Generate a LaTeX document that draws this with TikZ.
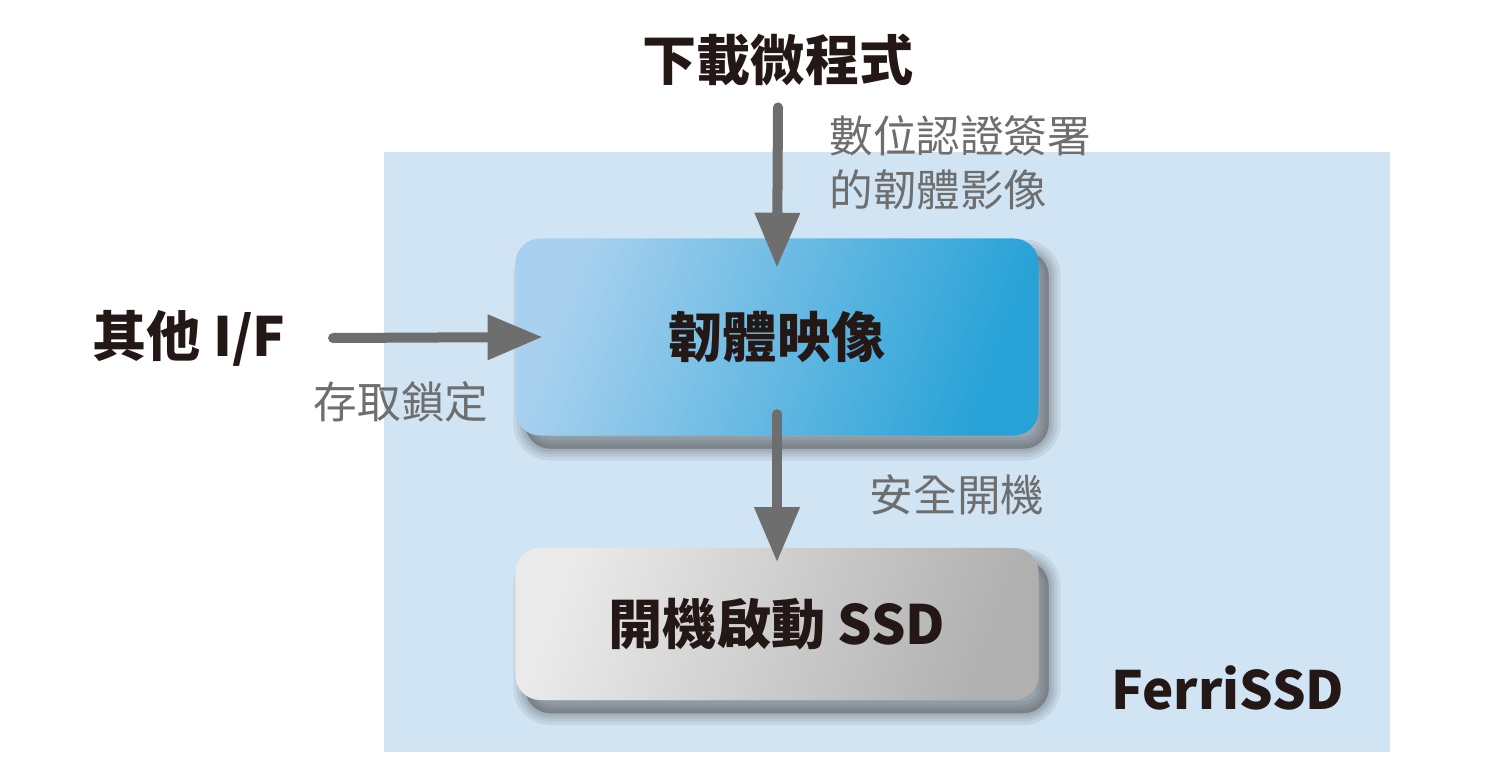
\documentclass[tikz,border=0pt]{standalone}
\usepackage{fontspec}
\usepackage{tikz}
\usepackage{xcolor}
\usetikzlibrary{positioning, calc, arrows.meta}
\setmainfont{Noto Sans CJK TC}

\definecolor{panelblue}{HTML}{D1E4F3}
\definecolor{boxblueL}{HTML}{A9D1EF}
\definecolor{boxblueR}{HTML}{27A2D7}
\definecolor{boxgrayL}{HTML}{EAEAEA}
\definecolor{boxgrayR}{HTML}{B0B0B0}
\definecolor{arrowgray}{HTML}{6E6E6E}
\definecolor{inkblack}{HTML}{231815}

\tikzset{
	blurlayer/.style={preaction={fill=black!75, draw=black!75, line width=#1, opacity=0.09, transform canvas={xshift=0.1cm, yshift=-0.13cm}}},
	shadowed/.style={blurlayer=0.24cm, blurlayer=0.17cm, blurlayer=0.11cm, blurlayer=0.06cm, blurlayer=0.01cm},
	stagebox/.style={shadowed, rounded corners=0.25cm, minimum width=5.23cm, text=inkblack,
		font=\fontsize{15.4}{18}\selectfont\bfseries},
	bigarrow/.style={arrowgray, line width=0.1cm, line cap=round, -{Triangle[width=0.43cm, length=0.55cm]}},
	title/.style={text=inkblack, font=\fontsize{15.4}{18}\selectfont\bfseries},
	note/.style={text=arrowgray, font=\fontsize{12.4}{15.2}\selectfont, align=left}
}

\begin{document}
\begin{tikzpicture}[x=0.01cm, y=-0.01cm]
	\useasboundingbox (0, 0) rectangle (1500, 773);

	\fill[panelblue] (384, 152) rectangle (1390, 752);  % FerriSSD area

	\node[stagebox, minimum height=1.97cm, left color=boxblueL, right color=boxblueR, shading angle=70] (fwimg) at (777, 337) {韌體映像};
	\node[stagebox, minimum height=1.52cm, left color=boxgrayL, right color=boxgrayR, shading angle=70] (bootssd) at (777, 624) {開機啟動 SSD};

	\node[title] (dlfw) at (778, 60) {下載微程式};
	\node[title] (otherif) at (189, 338) {其他 I/F};
	\node[title, font=\fontsize{15}{18}\selectfont\bfseries] (ferri) at (1228, 688) {FerriSSD};

	\node[note, anchor=west] (signed) at (817, 163) {數位認證簽署\\的韌體影像};
	\node[note] (lock) at (401, 402) {存取鎖定};
	\node[note] (secure) at (957, 495) {安全開機};

	\draw[bigarrow] ($(dlfw.south)+(0, 9)$) -- ($(fwimg.north)+(0, 30)$);
	\draw[bigarrow] ($(otherif.east)+(35, 0)$) -- ($(fwimg.west)+(28, 0)$);
	\draw[bigarrow] ($(fwimg.south)+(0, -22)$) -- ($(bootssd.north)+(0, 15)$);

\end{tikzpicture}
\end{document}
